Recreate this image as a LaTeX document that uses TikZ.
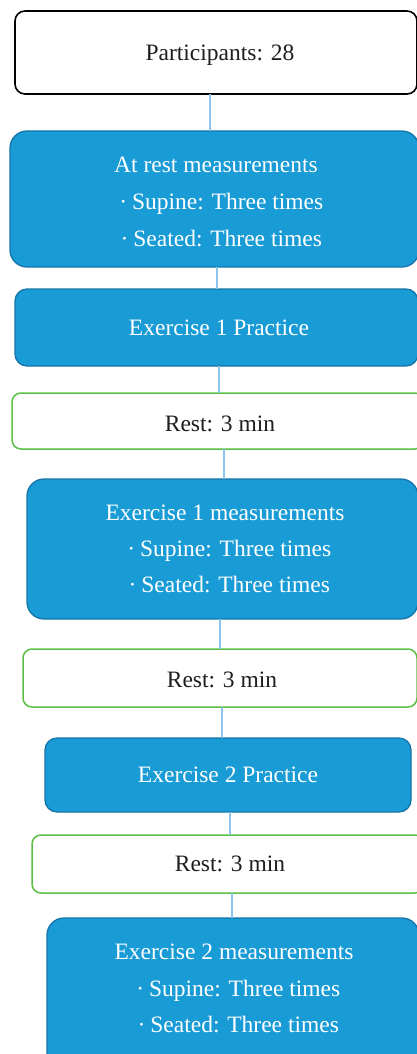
\documentclass[tikz,border=0pt]{standalone}
\usepackage{fontspec}
\setmainfont{Liberation Serif}
\definecolor{bfill}{HTML}{199BD6}
\definecolor{bborder}{HTML}{1675A8}
\definecolor{rgreen}{HTML}{5BBE45}
\definecolor{linkc}{HTML}{8DC4EC}
\definecolor{ktextc}{HTML}{1E1E1E}
\newcommand{\bul}{\hspace*{7.6pt}\textperiodcentered\hspace*{4.9pt}}
\tikzset{
  box/.style={rectangle, inner sep=0pt, outer sep=0pt},
  bluebox/.style={box, draw=bborder, fill=bfill, line width=1.3pt, rounded corners=17pt},
  bluesmall/.style={box, draw=bborder, fill=bfill, line width=1.3pt, rounded corners=12pt},
  restbox/.style={box, draw=rgreen, fill=white, line width=1.5pt, rounded corners=9pt},
  startbox/.style={box, draw=black, fill=white, line width=1.6pt, rounded corners=10pt},
  link/.style={draw=linkc, line width=1.1pt},
  wtext/.style={text=white, font=\fontsize{23.5}{28}\selectfont, inner sep=0pt, anchor=base},
  ktext/.style={text=ktextc, font=\fontsize{23.5}{28}\selectfont, inner sep=0pt, anchor=base}
}
\begin{document}
\begin{tikzpicture}[x=1pt,y=-1pt]
\useasboundingbox (0,0) rectangle (417,1054);
% boxes
\node[startbox, minimum width=402pt, minimum height=83pt] (b1) at (216,52.5) {};
\node[bluebox, minimum width=409pt, minimum height=136pt] (b2) at (214.5,199) {};
\node[bluesmall, minimum width=403pt, minimum height=77pt] (b3) at (216.5,327.5) {};
\node[restbox, minimum width=412pt, minimum height=56pt] (b4) at (218,421) {};
\node[bluebox, minimum width=391pt, minimum height=140pt] (b5) at (222.5,549) {};
\node[restbox, minimum width=394pt, minimum height=58pt] (b6) at (220,678) {};
\node[bluesmall, minimum width=366pt, minimum height=74pt] (b7) at (228,775) {};
\node[restbox, minimum width=392pt, minimum height=58pt] (b8) at (228,864) {};
\node[bluebox, minimum width=372pt, minimum height=167pt] (b9) at (233,1001.5) {};
% connectors
\draw[link] (b1.south -| 210,0) -- (b2.north -| 210,0);
\draw[link] (b2.south -| 217,0) -- (b3.north -| 217,0);
\draw[link] (b3.south -| 219,0) -- (b4.north -| 219,0);
\draw[link] (b4.south -| 224,0) -- (b5.north -| 224,0);
\draw[link] (b5.south -| 220,0) -- (b6.north -| 220,0);
\draw[link] (b6.south -| 222,0) -- (b7.north -| 222,0);
\draw[link] (b7.south -| 230,0) -- (b8.north -| 230,0);
\draw[link] (b8.south -| 232,0) -- (b9.north -| 232,0);
% texts
\node[ktext] (t1) at (220,61) {Participants: 28};
\node[wtext] (t2a) at (216,172.5) {At rest measurements};
\node[wtext] (t2b) at (217.5,209.5) {\bul Supine: Three times};
\node[wtext] (t2c) at (217.5,246) {\bul Seated: Three times};
\node[wtext] (t3) at (219,335) {Exercise 1 Practice};
\node[ktext] (t4) at (220,431) {Rest: 3 min};
\node[wtext] (t5a) at (225,520) {Exercise 1 measurements};
\node[wtext] (t5b) at (225.5,556) {\bul Supine: Three times};
\node[wtext] (t5c) at (225.5,592) {\bul Seated: Three times};
\node[ktext] (t6) at (222,687) {Rest: 3 min};
\node[wtext] (t7) at (228,782) {Exercise 2 Practice};
\node[ktext] (t8) at (230,871) {Rest: 3 min};
\node[wtext] (t9a) at (234,959) {Exercise 2 measurements};
\node[wtext] (t9b) at (234.5,996) {\bul Supine: Three times};
\node[wtext] (t9c) at (234.5,1032) {\bul Seated: Three times};
\end{tikzpicture}
\end{document}
